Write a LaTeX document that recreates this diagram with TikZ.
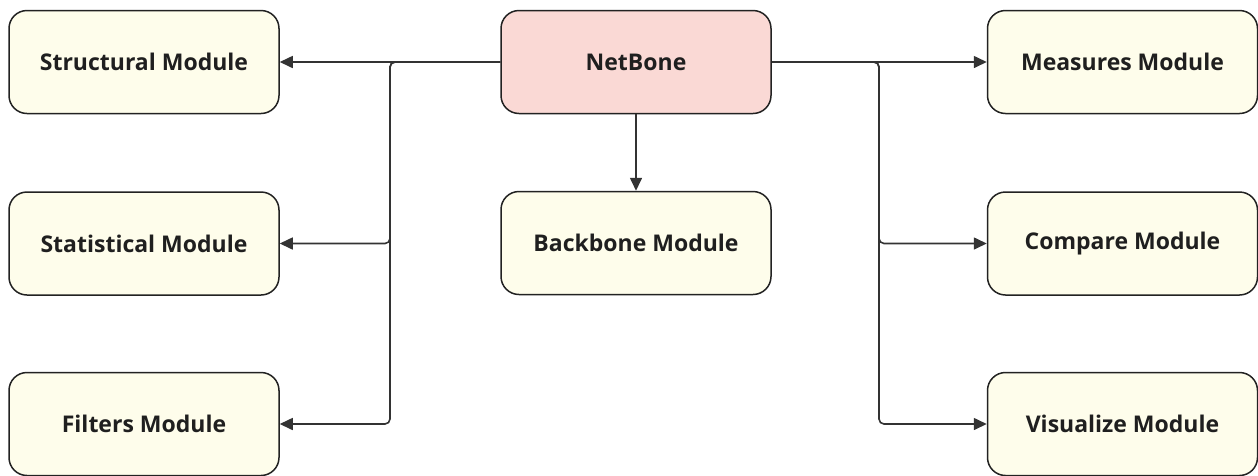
\documentclass[tikz,border=0pt]{standalone}
\usepackage{fontspec}
\setmainfont{Open Sans}
\usetikzlibrary{arrows.meta}
\definecolor{modfill}{HTML}{FEFDEB}
\definecolor{netfill}{HTML}{FAD9D5}
\definecolor{linec}{HTML}{333333}
\definecolor{edgec}{HTML}{222222}
\begin{document}
\begin{tikzpicture}[x=1pt,y=-1pt,
  modbox/.style={draw=edgec, line width=1.5pt, rounded corners=18pt,
    minimum width=270pt, minimum height=103pt, fill=modfill, inner sep=0pt,
    font=\bfseries\fontsize{23}{27}\selectfont, text=black!88},
  netbox/.style={modbox, fill=netfill},
  conn/.style={draw=linec, line width=1.6pt, rounded corners=5pt,
    -{Triangle[length=13pt,width=12pt]}}]
\useasboundingbox (0,0) rectangle (1258,475);
\node[modbox] (struct) at (144,62) {Structural Module};
\node[modbox] (stat) at (144,243.5) {Statistical Module};
\node[modbox] (filt) at (144,424) {Filters Module};
\node[netbox] (net) at (636,62) {NetBone};
\node[modbox] (back) at (636,243) {Backbone Module};
\node[modbox] (meas) at (1122.5,62) {Measures Module};
\node[modbox] (comp) at (1122.5,243.5) {Compare Module};
\node[modbox] (vis) at (1122.5,424) {Visualize Module};
\coordinate (lt) at (390,62);
\coordinate (rt) at (879,62);
\draw[conn] (net.west) -- (struct.east);
\draw[conn] (net.west) -- (lt) |- (stat.east);
\draw[conn] (net.west) -- (lt) |- (filt.east);
\draw[conn] (net.east) -- (meas.west);
\draw[conn] (net.east) -- (rt) |- (comp.west);
\draw[conn] (net.east) -- (rt) |- (vis.west);
\draw[conn] (net.south) -- (back.north);
\end{tikzpicture}
\end{document}
